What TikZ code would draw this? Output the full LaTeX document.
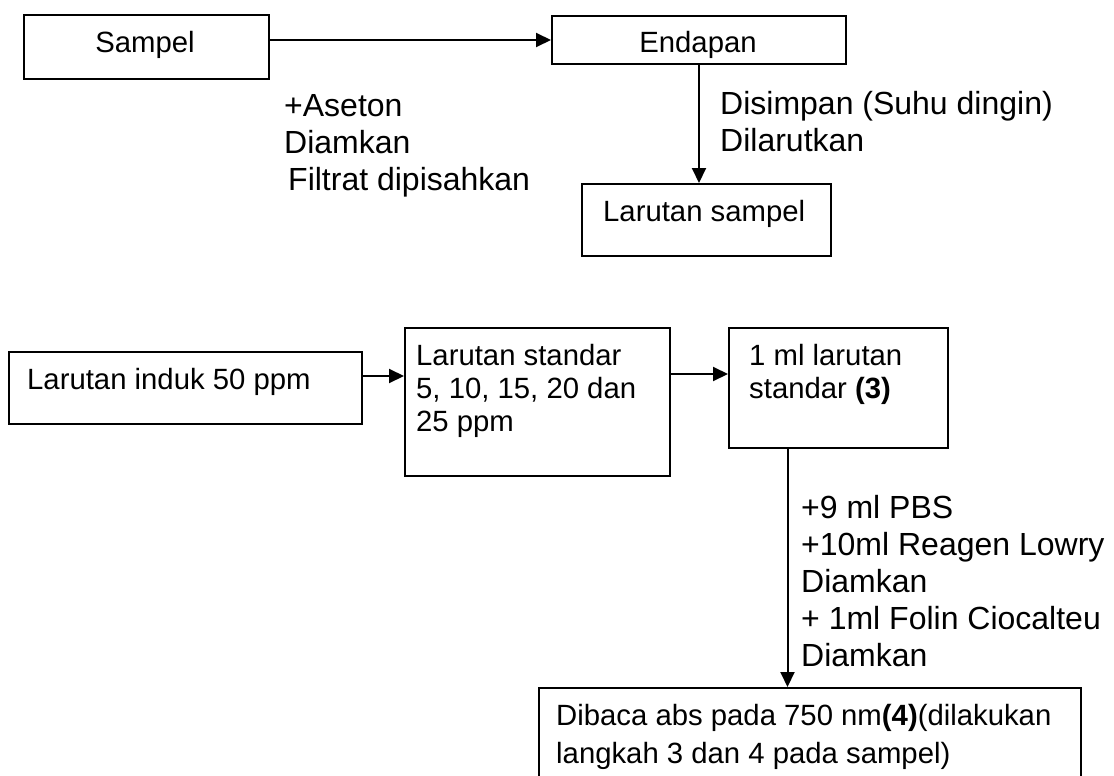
\documentclass[tikz,border=0pt]{standalone}
\usepackage{fontspec}
\setmainfont{Liberation Sans}
\usetikzlibrary{arrows.meta}

\tikzset{
  kotak/.style={draw,line width=2pt,anchor=north west,inner sep=0pt},
  isi/.style={anchor=base west,inner sep=0pt,align=left,font=\fontsize{29.3}{33}\selectfont},
  ket/.style={anchor=base west,inner sep=0pt,align=left,font=\fontsize{32}{36.8}\selectfont},
  panah/.style={-{Triangle[length=15pt,width=14pt]},line width=2pt},
}

\begin{document}
\begin{tikzpicture}[x=1pt,y=-1pt]
\useasboundingbox (0,0) rectangle (1114,776);
\clip (0,0) rectangle (1114,776);
%%
\node (sampel) at (23,14) [kotak,minimum width=245pt,minimum height=64pt] {};
  \node (endapan) at (551,15) [kotak,minimum width=294pt,minimum height=48pt] {};
  \node (larsampel) at (581,183) [kotak,minimum width=249pt,minimum height=72pt] {};
  \node (induk) at (8,351) [kotak,minimum width=353pt,minimum height=72pt] {};
  \node (standar) at (404,327) [kotak,minimum width=265pt,minimum height=148pt] {};
  \node (satuml) at (728,327) [kotak,minimum width=219pt,minimum height=120pt] {};
  \node (dibaca) at (538,687) [kotak,minimum width=542pt,minimum height=110pt] {};
%% multi-line texts sit on the baseline of their last line
  \node (t_sampel) at (145,53) [isi,anchor=base] {Sampel};
  \node (t_endapan) at (698,53) [isi,anchor=base] {Endapan};
  \node (t_larsampel) at (603,221) [isi] {Larutan sampel};
  \node (t_induk) at (27,389) [isi] {Larutan induk 50 ppm};
  \node (t_standar) at (416,431) [isi] {Larutan standar\\5, 10, 15, 20 dan\\25 ppm};
  \node (t_satuml) at (749,398) [isi] {1 ml larutan\\standar \textbf{(3)}};
  \node (t_dibaca) at (556,763) [isi,font=\fontsize{29.3}{38}\selectfont] {Dibaca abs pada 750 nm\textbf{(4)}(dilakukan\\langkah 3 dan 4 pada sampel)};
%%
  \node (k_aseton) at (284,190) [ket] {+Aseton\\Diamkan\\\hspace*{4pt}Filtrat dipisahkan};
  \node (k_simpan) at (720,151) [ket] {Disimpan (Suhu dingin)\\Dilarutkan};
  \node (k_lowry) at (801,666) [ket] {+9 ml PBS\\+10ml Reagen Lowry\\Diamkan\\+ 1ml Folin Ciocalteu\\Diamkan};
%%
  \draw [panah] (sampel.east |- endapan.west) -- (endapan.west);
  \draw [panah] (endapan.south) -- (endapan.south |- larsampel.north);
  \draw [panah] ([yshift=12pt]induk.east) -- ([yshift=12pt]induk.east -| standar.west);
  \draw [panah] ([yshift=28pt]standar.east) -- ([yshift=28pt]standar.east -| satuml.west);
  \draw [panah] ([xshift=-51pt]satuml.south) -- ([xshift=-51pt]satuml.south |- dibaca.north);
%
\end{tikzpicture}
\end{document}
